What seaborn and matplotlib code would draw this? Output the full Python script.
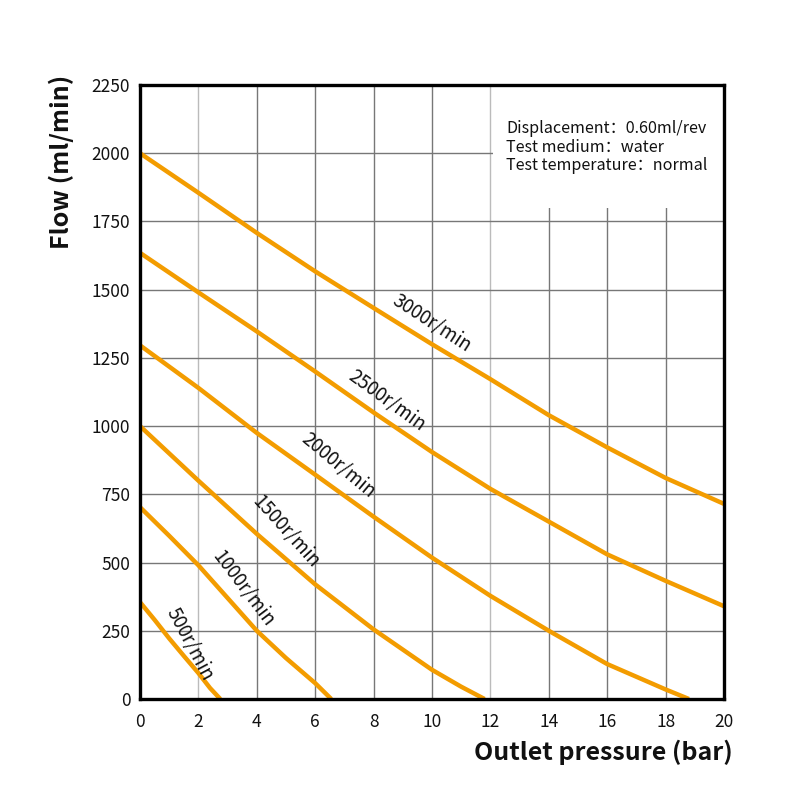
import matplotlib
matplotlib.use("Agg")
import matplotlib.pyplot as plt
import seaborn as sns
import pandas as pd
from matplotlib.patches import Rectangle

# ---- data ----
p3000 = [0, 2, 4, 6, 8, 10, 12, 14, 16, 18, 20]
q3000 = [2000, 1855, 1708, 1567, 1433, 1300, 1172, 1040, 922, 810, 715]
p2500 = [0, 2, 4, 6, 8, 10, 12, 14, 16, 18, 20]
q2500 = [1635, 1490, 1347, 1200, 1050, 905, 770, 650, 530, 433, 340]
p2000 = [0, 2, 4, 6, 8, 10, 12, 14, 16, 18, 18.8]
q2000 = [1296, 1140, 975, 822, 668, 518, 378, 250, 128, 35, 0]
p1500 = [0, 2, 4, 6, 8, 10, 11, 11.8]
q1500 = [1000, 800, 605, 420, 255, 107, 45, 0]
p1000 = [0, 1, 2, 3, 4, 5, 6, 6.55]
q1000 = [703, 598, 490, 370, 250, 150, 58, 0]
p500 = [0, 0.5, 1, 1.5, 2, 2.4, 2.75]
q500 = [355, 290, 222, 158, 95, 40, 0]

speeds = ["3000r/min", "2500r/min", "2000r/min", "1500r/min", "1000r/min", "500r/min"]
# label positions (x, y) and rotation of each curve label
label_x = [10.0, 8.46, 6.78, 5.0, 3.53, 1.71]
label_y = [1375, 1093, 855, 612, 405, 200]
label_rot = [-33, -36, -40, -48, -53, -62]

xticks = [0, 2, 4, 6, 8, 10, 12, 14, 16, 18, 20]
yticks = [0, 250, 500, 750, 1000, 1250, 1500, 1750, 2000, 2250]
info_lines = ["Displacement：0.60ml/rev", "Test medium：water", "Test temperature：normal"]

rows = []
for s, ps, qs in zip(speeds, [p3000, p2500, p2000, p1500, p1000, p500],
                     [q3000, q2500, q2000, q1500, q1000, q500]):
    for p, q in zip(ps, qs):
        rows.append({"speed": s, "pressure": p, "flow": q})
df = pd.DataFrame(rows)

sns.set_theme(style="white")
plt.rcParams["font.family"] = ["Noto Sans CJK SC", "DejaVu Sans"]

fig = plt.figure(figsize=(8, 8), dpi=100)
ax = fig.add_axes([0.175, 0.12625, 0.73, 0.7675])

orange = "#F39C00"
sns.lineplot(data=df, x="pressure", y="flow", hue="speed", hue_order=speeds,
             palette=[orange] * len(speeds), linewidth=3.2, ax=ax,
             legend=False, zorder=3, sort=False)
for ln in ax.get_lines():
    ln.set_solid_joinstyle("round")
    ln.set_solid_capstyle("butt")

ax.set_xlim(0, 20)
ax.set_ylim(0, 2250)
ax.set_xticks(xticks)
ax.set_yticks(yticks)
ax.set_xticklabels([str(v) for v in xticks], fontsize=12.5)
ax.set_yticklabels([str(v) for v in yticks], fontsize=12.5)
ax.tick_params(axis="y", length=0, pad=7, colors="#111111")
ax.tick_params(axis="x", length=0, pad=10, colors="#111111")
ax.set_xlabel("")
ax.set_ylabel("")

# grid
for xv in xticks[1:-1]:
    col = "#bbbbbb" if xv in (2, 12) else "#777777"
    ax.axvline(xv, color=col, linewidth=1.0, zorder=1)
for yv in yticks[1:-1]:
    ax.axhline(yv, color="#777777", linewidth=1.0, zorder=1)

# white info area
ax.add_patch(Rectangle((12.08, 1800), 20 - 12.08, 450, facecolor="white",
                       edgecolor="none", zorder=2))

for i, line in enumerate(info_lines):
    ax.text(12.55, 2090 - i * 68, line, fontsize=11.6, color="#111111",
            ha="left", va="center", zorder=4)

for s, lx, ly, r in zip(speeds, label_x, label_y, label_rot):
    ax.text(lx, ly, s, rotation=r, rotation_mode="anchor", ha="center",
            va="center", fontsize=13.5, color="#111111", zorder=4)

for sp in ax.spines.values():
    sp.set_color("black")
    sp.set_linewidth(2.4)
    sp.set_zorder(5)

fig.text(61 / 800, 1 - 162 / 800, "Flow (ml/min)", rotation=90, ha="center",
         va="center", fontsize=18, fontweight="bold", color="#111111")
fig.text(733 / 800, 1 - 752 / 800, "Outlet pressure (bar)", ha="right",
         va="center", fontsize=18, fontweight="bold", color="#111111")

fig.savefig("out.png", dpi=100, facecolor="white")
